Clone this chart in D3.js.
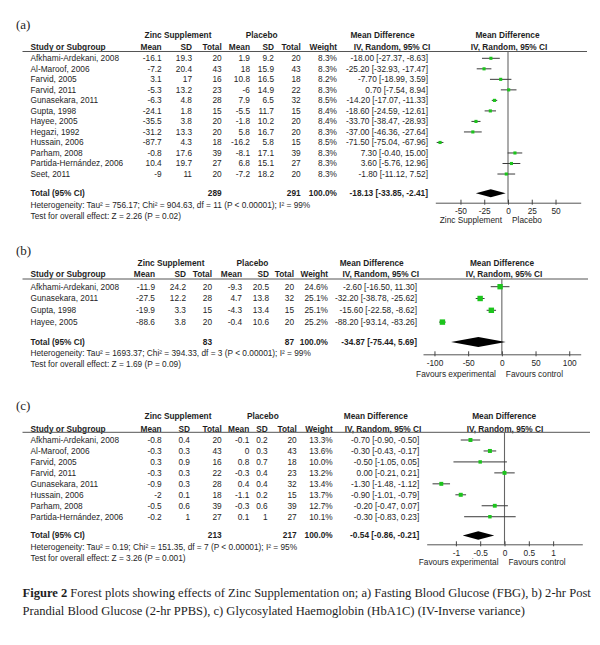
<!DOCTYPE html>
<html><head><meta charset="utf-8">
<script src="https://cdn.jsdelivr.net/npm/d3@7"></script>
<style>
body{margin:0;background:#fff}
svg{display:block}
text{font-family:"Liberation Sans",Arial,sans-serif;fill:#1e1e1e}
</style>
</head><body><svg id="c" width="600" height="645"></svg>
<script>
// ---------- Panel (a): Fasting Blood Glucose ----------
const studiesA = ["Afkhami-Ardekani, 2008","Al-Maroof, 2006","Farvid, 2005","Farvid, 2011","Gunasekara, 2011","Gupta, 1998","Hayee, 2005","Hegazi, 1992","Hussain, 2006","Parham, 2008","Partida-Hernández, 2006","Seet, 2011"];
const zincA = [[-16.1,19.3,20],[-7.2,20.4,43],[3.1,17,16],[-5.3,13.2,23],[-6.3,4.8,28],[-24.1,1.8,15],[-35.5,3.8,20],[-31.2,13.3,20],[-87.7,4.3,18],[-0.8,17.6,39],[10.4,19.7,27],[-9,11,20]];
const placeboA = [[1.9,9.2,20],[18,15.9,43],[10.8,16.5,18],[-6,14.9,22],[7.9,6.5,32],[-5.5,11.7,15],[-1.8,10.2,20],[5.8,16.7,20],[-16.2,5.8,15],[-8.1,17.1,39],[6.8,15.1,27],[-7.2,18.2,20]];
const weightA = [8.3,8.3,8.2,8.3,8.5,8.4,8.4,8.3,8.5,8.3,8.3,8.3];
const mdA = [-18.00,-25.20,-7.70,0.70,-14.20,-18.60,-33.70,-37.00,-71.50,7.30,3.60,-1.80];
const lowA = [-27.37,-32.93,-18.99,-7.54,-17.07,-24.59,-38.47,-46.36,-75.04,-0.40,-5.76,-11.12];
const highA = [-8.63,-17.47,3.59,8.94,-11.33,-12.61,-28.93,-27.64,-67.96,15.00,12.96,7.52];
const totalA = [289,291,100.0,-18.13,-33.85,-2.41];
const ticksA = [-50,-25,0,25,50];
const favoursA = ["Zinc Supplement","Placebo"];
const hetA = "Heterogeneity: Tau² = 756.17; Chi² = 904.63, df = 11 (P < 0.00001); I² = 99%";
const testA = "Test for overall effect: Z = 2.26 (P = 0.02)";

// ---------- Panel (b): 2-hr PPBS ----------
const studiesB = ["Afkhami-Ardekani, 2008","Gunasekara, 2011","Gupta, 1998","Hayee, 2005"];
const zincB = [[-11.9,24.2,20],[-27.5,12.2,28],[-19.9,3.3,15],[-88.6,3.8,20]];
const placeboB = [[-9.3,20.5,20],[4.7,13.8,32],[-4.3,13.4,15],[-0.4,10.6,20]];
const weightB = [24.6,25.1,25.1,25.2];
const mdB = [-2.60,-32.20,-15.60,-88.20];
const lowB = [-16.50,-38.78,-22.58,-93.14];
const highB = [11.30,-25.62,-8.62,-83.26];
const totalB = [83,87,100.0,-34.87,-75.44,5.69];
const ticksB = [-100,-50,0,50,100];
const favoursB = ["Favours experimental","Favours control"];
const hetB = "Heterogeneity: Tau² = 1693.37; Chi² = 394.33, df = 3 (P < 0.00001); I² = 99%";
const testB = "Test for overall effect: Z = 1.69 (P = 0.09)";

// ---------- Panel (c): HbA1C ----------
const studiesC = ["Afkhami-Ardekani, 2008","Al-Maroof, 2006","Farvid, 2005","Farvid, 2011","Gunasekara, 2011","Hussain, 2006","Parham, 2008","Partida-Hernández, 2006"];
const zincC = [[-0.8,0.4,20],[-0.3,0.3,43],[0.3,0.9,16],[-0.3,0.3,22],[-0.9,0.3,28],[-2,0.1,18],[-0.5,0.6,39],[-0.2,1,27]];
const placeboC = [[-0.1,0.2,20],[0,0.3,43],[0.8,0.7,18],[-0.3,0.4,23],[0.4,0.4,32],[-1.1,0.2,15],[-0.3,0.6,39],[0.1,1,27]];
const weightC = [13.3,13.6,10.0,13.2,13.4,13.7,12.7,10.1];
const mdC = [-0.70,-0.30,-0.50,0.00,-1.30,-0.90,-0.20,-0.30];
const lowC = [-0.90,-0.43,-1.05,-0.21,-1.48,-1.01,-0.47,-0.83];
const highC = [-0.50,-0.17,0.05,0.21,-1.12,-0.79,0.07,0.23];
const totalC = [213,217,100.0,-0.54,-0.86,-0.21];
const ticksC = [-1,-0.5,0,0.5,1];
const favoursC = ["Favours experimental","Favours control"];
const hetC = "Heterogeneity: Tau² = 0.19; Chi² = 151.35, df = 7 (P < 0.00001); I² = 95%";
const testC = "Test for overall effect: Z = 3.26 (P = 0.001)";

const captionBold = "Figure 2";
const caption1 = " Forest plots showing effects of Zinc Supplementation on; a) Fasting Blood Glucose (FBG), b) 2-hr Post";
const caption2 = "Prandial Blood Glucose (2-hr PPBS), c) Glycosylated Haemoglobin (HbA1C) (IV-Inverse variance)";

const svg = d3.select("#c");
const FS = 8.3;
const GREEN = "#1cc41c";
const sq = d3.scaleSqrt().domain([0,25]).range([0,5.4]);
const fmt2 = v => (Math.abs(v) < 1e-9 ? 0 : v).toFixed(2);

function txt(g, x, y, s, anchor, bold){
  return g.append("text").attr("x",x).attr("y",y).attr("dy","0.35em")
    .attr("text-anchor",anchor||"start").style("font-size",FS+"px")
    .style("font-weight",bold?"bold":"normal").text(s);
}

function drawPanel(P, D){
  const g = svg.append("g");
  const x = d3.scaleLinear().domain(P.domain).range(P.range);
  g.append("text").attr("x",16).attr("y",P.labelY).attr("dy","0.35em")
    .style("font-family","'Liberation Serif','Times New Roman',serif").style("font-size","13px").text(P.label);
  // group headers
  txt(g,P.zincC,P.groupY,"Zinc Supplement","middle",true);
  txt(g,P.placC,P.groupY,"Placebo","middle",true);
  txt(g,P.mdC,P.groupY,"Mean Difference","middle",true);
  txt(g,P.plotC,P.groupY,"Mean Difference","middle",true);
  // column headers
  txt(g,30.5,P.headY,"Study or Subgroup","start",true);
  ["Mean","SD","Total","Mean","SD","Total","Weight"].forEach((h,i)=>txt(g,P.cols[i],P.headY,h,"end",true));
  txt(g,P.ivC,P.headY,"IV, Random, 95% CI","middle",true);
  txt(g,P.plotIvC,P.headY,"IV, Random, 95% CI","middle",true);
  g.append("line").attr("x1",22.5).attr("x2",P.lineEnd).attr("y1",P.lineY).attr("y2",P.lineY)
    .attr("stroke","#555").attr("stroke-width",1);
  // zero line
  g.append("line").attr("x1",x(0)).attr("x2",x(0)).attr("y1",P.lineY).attr("y2",P.axisY)
    .attr("stroke","#666").attr("stroke-width",1.1);
  const ry = i => P.row0 + i*P.rowStep;
  D.studies.forEach((s,i)=>{
    const y = ry(i);
    txt(g,30.5,y,s);
    const vals = [D.zinc[i][0],D.zinc[i][1],D.zinc[i][2],D.plac[i][0],D.plac[i][1],D.plac[i][2]];
    vals.forEach((v,j)=>txt(g,P.cols[j],y,String(v),"end"));
    txt(g,P.cols[6],y,D.weight[i].toFixed(1)+"%","end");
    txt(g,P.cols[7],y,`${fmt2(D.md[i])} [${fmt2(D.low[i])}, ${fmt2(D.high[i])}]`,"end");
    g.append("line").attr("x1",x(D.low[i])).attr("x2",x(D.high[i])).attr("y1",y).attr("y2",y)
      .attr("stroke","#3a3a3a").attr("stroke-width",1);
    const s2 = sq(D.weight[i]);
    g.append("rect").attr("x",x(D.md[i])-s2/2).attr("y",y-s2/2).attr("width",s2).attr("height",s2)
      .attr("fill",GREEN);
  });
  // total row
  const T = D.total;
  txt(g,30.5,P.totalY,"Total (95% CI)","start",true);
  txt(g,P.cols[2],P.totalY,String(T[0]),"end",true);
  txt(g,P.cols[5],P.totalY,String(T[1]),"end",true);
  txt(g,P.cols[6],P.totalY,T[2].toFixed(1)+"%","end",true);
  txt(g,P.cols[7],P.totalY,`${fmt2(T[3])} [${fmt2(T[4])}, ${fmt2(T[5])}]`,"end",true);
  const dy = P.diaH;
  g.append("path").attr("d",`M${x(T[4])},${P.totalY}L${x(T[3])},${P.totalY-dy}L${x(T[5])},${P.totalY}L${x(T[3])},${P.totalY+dy}Z`)
    .attr("fill","#000");
  txt(g,30.5,P.hetY,D.het);
  txt(g,30.5,P.testY,D.test);
  // axis
  const ax = g.append("g").attr("transform",`translate(0,${P.axisY})`)
    .call(d3.axisBottom(x).tickValues(D.ticks).tickFormat(d=>String(d)).tickSizeOuter(0).tickSizeInner(2));
  ax.select(".domain").attr("stroke","#555").attr("stroke-width",1);
  ax.selectAll(".tick line").attr("y1",-3).attr("y2",2).attr("stroke","#444");
  ax.selectAll(".tick text").attr("y",P.tickY-P.axisY).attr("dy","0.35em")
    .style("font-family","'Liberation Sans',Arial,sans-serif").style("font-size",FS+"px").attr("fill","#1e1e1e");
  txt(g,x(0)-6,P.favY,D.fav[0],"end");
  txt(g,x(0)+4,P.favY,D.fav[1],"start");
}

drawPanel({label:"(a)",labelY:24,groupY:35,headY:47,lineY:51.5,row0:58.3,rowStep:10.52,
  totalY:193.3,hetY:205,testY:216,axisY:202.7,tickY:211,favY:220.5,diaH:4,
  cols:[161.7,192,221.7,250,274,300.7,337,428],zincC:178,placC:261.7,mdC:382.5,ivC:392,plotC:507.5,plotIvC:509,
  lineEnd:587,domain:[-76.5,76.5],range:[435.3,580.7]},
  {studies:studiesA,zinc:zincA,plac:placeboA,weight:weightA,md:mdA,low:lowA,high:highA,total:totalA,
   ticks:ticksA,fav:favoursA,het:hetA,test:testA});

drawPanel({label:"(b)",labelY:250,groupY:262.7,headY:274,lineY:279,row0:286.7,rowStep:11.8,
  totalY:342,hetY:353.5,testY:364.5,axisY:354.3,tickY:363.3,favY:373.7,diaH:5,
  cols:[155,186,212,242,269,294,328,417],zincC:171,placC:252.5,mdC:371.7,ivC:380.8,plotC:502,plotIvC:504,
  lineEnd:588,domain:[-117,117],range:[423,580.7]},
  {studies:studiesB,zinc:zincB,plac:placeboB,weight:weightB,md:mdB,low:lowB,high:highB,total:totalB,
   ticks:ticksB,fav:favoursB,het:hetB,test:testB});

drawPanel({label:"(c)",labelY:405,groupY:415.7,headY:429,lineY:432.3,row0:440,rowStep:10.96,
  totalY:535.5,hetY:546.7,testY:558,axisY:544.3,tickY:552.7,favY:562,diaH:4.2,
  cols:[161.7,190,221.7,249.3,267.7,296.7,332.7,419.3],zincC:178,placC:262.8,mdC:375.8,ivC:383,plotC:504.2,plotIvC:505,
  lineEnd:590,domain:[-1.6,1.6],range:[426.7,582.3]},
  {studies:studiesC,zinc:zincC,plac:placeboC,weight:weightC,md:mdC,low:lowC,high:highC,total:totalC,
   ticks:ticksC,fav:favoursC,het:hetC,test:testC});

// caption
const cap = svg.append("g").style("font-family","'Liberation Serif','Times New Roman',serif");
const l1 = cap.append("text").attr("x",22.5).attr("y",593).attr("dy","0.35em").style("font-size","12px");
l1.append("tspan").style("font-weight","bold").style("font-family","inherit").text(captionBold);
l1.append("tspan").style("font-family","inherit").text(caption1);
const l2 = cap.append("text").attr("x",22.5).attr("y",611).attr("dy","0.35em").style("font-size","12px").text(caption2);
cap.selectAll("text").style("font-family","'Liberation Serif','Times New Roman',serif");
const w1 = l1.node().getComputedTextLength();
const fs = Math.min(14, 12*569/w1);
l1.style("font-size",fs+"px"); l2.style("font-size",fs+"px");
</script>
</body></html>
